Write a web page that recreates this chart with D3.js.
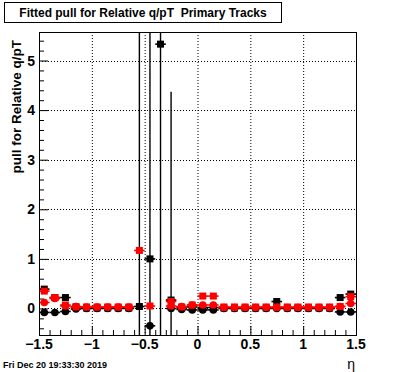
<!DOCTYPE html>
<html>
<head>
<meta charset="utf-8">
<script src="https://cdn.jsdelivr.net/npm/d3@7"></script>
<style>
  body { margin: 0; background: #fff; }
  text { font-family: "Liberation Sans", Arial, sans-serif; font-weight: bold; white-space: pre; }
</style>
</head>
<body>
<svg id="chart"></svg>
<script>
// Chart data, one value per eta bin
var etaBins = [-1.45, -1.35, -1.25, -1.15, -1.05, -0.95, -0.85, -0.75, -0.65, -0.55,
               -0.45, -0.35, -0.25, -0.15, -0.05, 0.05, 0.15, 0.25, 0.35, 0.45,
               0.55, 0.65, 0.75, 0.85, 0.95, 1.05, 1.15, 1.25, 1.35, 1.45];
var blackSquares = [0.39, 0.22, 0.22, 0.03, 0.01, 0.01, 0.01, 0.01, 0.01, 0.04,
                    1.00, 5.33, 0.17, 0.02, 0.03, 0.02, 0.02, 0.01, 0.01, 0.01,
                    0.01, 0.01, 0.14, 0.01, 0.01, 0.01, 0.01, 0.01, 0.22, 0.29];
var blackSquareErr = [0.02, 0.02, 0.02, 0.02, 0.02, 0.02, 0.02, 0.02, 0.02, 7,
                      7, 7, 4.2, 0.02, 0.02, 0.02, 0.02, 0.02, 0.02, 0.02,
                      0.02, 0.02, 0.02, 0.02, 0.02, 0.02, 0.02, 0.02, 0.02, 0.02];
var blackCircles = [-0.08, -0.08, -0.06, -0.01, 0.00, 0.00, 0.00, 0.00, 0.00, null,
                    -0.35, null, 0.00, -0.02, -0.03, -0.03, -0.03, 0.00, 0.00, 0.00,
                    0.00, 0.00, 0.00, 0.00, 0.00, 0.00, 0.00, 0.00, -0.07, -0.07];
var redSquares = [0.35, 0.22, 0.07, 0.03, 0.03, 0.03, 0.03, 0.03, 0.03, 1.17,
                  0.05, null, 0.14, 0.03, 0.07, 0.25, 0.25, 0.03, 0.03, 0.03,
                  0.03, 0.03, 0.03, 0.03, 0.03, 0.03, 0.03, 0.03, 0.04, 0.24];
var redCircles = [0.12, 0.20, 0.05, 0.04, 0.03, 0.03, 0.03, 0.03, 0.03, null,
                  null, null, 0.05, 0.04, 0.07, 0.07, 0.07, 0.02, 0.02, 0.02,
                  0.02, 0.02, 0.02, 0.02, 0.02, 0.02, 0.02, 0.02, 0.04, 0.10];
var xTicks = [-1.5, -1, -0.5, 0, 0.5, 1, 1.5];
var yTicks = [0, 1, 2, 3, 4, 5];

var W = 396, H = 372,
    padL = 39, padR = 356, padT = 32, padB = 335,
    binHalf = 0.05;

var svg = d3.select("#chart").attr("width", W).attr("height", H);

var x = d3.scaleLinear().domain([-1.5, 1.5]).range([padL, padR]);
var y = d3.scaleLinear().domain([-0.535, 5.575]).range([padB, padT]);

var plot = svg.append("g");
svg.append("clipPath").attr("id", "frameclip")
    .append("rect").attr("x", padL).attr("y", padT)
    .attr("width", padR - padL).attr("height", padB - padT);

// dotted grid
plot.selectAll(".gx").data(xTicks.slice(1, -1)).enter().append("line")
    .attr("x1", function (d) { return x(d) + 0.5; }).attr("x2", function (d) { return x(d) + 0.5; })
    .attr("y1", padT).attr("y2", padB)
    .attr("stroke", "#000").attr("stroke-dasharray", "1,2");
plot.selectAll(".gy").data(yTicks).enter().append("line")
    .attr("x1", padL).attr("x2", padR)
    .attr("y1", function (d) { return Math.round(y(d)) + 0.5; }).attr("y2", function (d) { return Math.round(y(d)) + 0.5; })
    .attr("stroke", "#000").attr("stroke-dasharray", "1,2");

// axes: ticks drawn inside the frame, like ROOT
var xAxis = d3.axisTop(x).tickValues(d3.range(-15, 16).map(function (v) { return v / 10; }))
    .tickSize(5).tickFormat("");
svg.append("g").attr("transform", "translate(0," + padB + ")").call(xAxis)
    .call(function (g) {
        g.select(".domain").remove();
        g.selectAll(".tick line").filter(function (d) { return Math.abs(d * 2 - Math.round(d * 2)) < 1e-6; })
            .attr("y2", -9);
    });
var yAxis = d3.axisRight(y).tickValues(d3.range(-2, 28).map(function (v) { return v / 5; }))
    .tickSize(5).tickFormat("");
svg.append("g").attr("transform", "translate(" + padL + ",0)").call(yAxis)
    .call(function (g) {
        g.select(".domain").remove();
        g.selectAll(".tick line").filter(function (d) { return Math.abs(d - Math.round(d)) < 1e-6; })
            .attr("x2", 9);
    });

// tick labels
svg.selectAll(".xl").data(xTicks).enter().append("text")
    .attr("x", function (d) { return x(d); }).attr("y", 349)
    .attr("text-anchor", "middle").attr("font-size", 14)
    .text(function (d) { return d3.format("")(d).replace("-", "\u2212"); });
svg.selectAll(".yl").data(yTicks).enter().append("text")
    .attr("x", 35).attr("y", function (d) { return y(d) + 5; })
    .attr("text-anchor", "end").attr("font-size", 14)
    .text(function (d) { return d; });

// markers
var marks = svg.append("g").attr("clip-path", "url(#frameclip)");

function series(values, errs, color, shape) {
    var pts = etaBins.map(function (e, i) {
        return { x: e, v: values[i], err: errs ? errs[i] : 0 };
    }).filter(function (d) { return d.v !== null; });
    var g = marks.append("g");
    g.selectAll(".hx").data(pts).enter().append("line")
        .attr("x1", function (d) { return x(d.x - binHalf); })
        .attr("x2", function (d) { return x(d.x + binHalf); })
        .attr("y1", function (d) { return y(d.v); }).attr("y2", function (d) { return y(d.v); })
        .attr("stroke", color).attr("stroke-width", 1.6);
    g.selectAll(".vx").data(pts.filter(function (d) { return d.err > 0.1; })).enter().append("line")
        .attr("x1", function (d) { return x(d.x); }).attr("x2", function (d) { return x(d.x); })
        .attr("y1", function (d) { return y(d.v + d.err); })
        .attr("y2", function (d) { return y(d.v - d.err); })
        .attr("stroke", color).attr("stroke-width", 1.4);
    if (shape === "square") {
        g.selectAll(".m").data(pts).enter().append("rect")
            .attr("x", function (d) { return x(d.x) - 3.5; })
            .attr("y", function (d) { return y(d.v) - 3.5; })
            .attr("width", 7).attr("height", 7).attr("fill", color);
    } else {
        g.selectAll(".m").data(pts).enter().append("circle")
            .attr("cx", function (d) { return x(d.x); })
            .attr("cy", function (d) { return y(d.v); })
            .attr("r", 3.8).attr("fill", color);
    }
}

series(blackSquares, blackSquareErr, "#000", "square");
series(blackCircles, null, "#000", "circle");
series(redSquares, null, "#ff0000", "square");
series(redCircles, null, "#ff0000", "circle");

// frame
svg.append("rect").attr("x", padL + 0.5).attr("y", padT + 0.5)
    .attr("width", padR - padL).attr("height", padB - padT)
    .attr("fill", "none").attr("stroke", "#000").attr("stroke-width", 1);

// title box
svg.append("rect").attr("x", 4.5).attr("y", 2.5).attr("width", 277).attr("height", 20)
    .attr("fill", "#fff").attr("stroke", "#000").attr("stroke-width", 1);
svg.append("text").attr("x", 143).attr("y", 17).attr("text-anchor", "middle")
    .attr("font-size", 12).text("Fitted pull for Relative q/pT  Primary Tracks");

// axis titles
svg.append("text").attr("transform", "translate(21,40) rotate(-90)")
    .attr("text-anchor", "end").attr("font-size", 13.5).text("pull for Relative q/pT");
svg.append("text").attr("x", 355).attr("y", 369).attr("text-anchor", "end")
    .attr("font-size", 14).style("font-weight", "normal").text("\u03b7");

// date stamp
svg.append("text").attr("x", 3).attr("y", 368).attr("font-size", 9).text("Fri Dec 20 19:33:30 2019");
</script>
</body>
</html>
